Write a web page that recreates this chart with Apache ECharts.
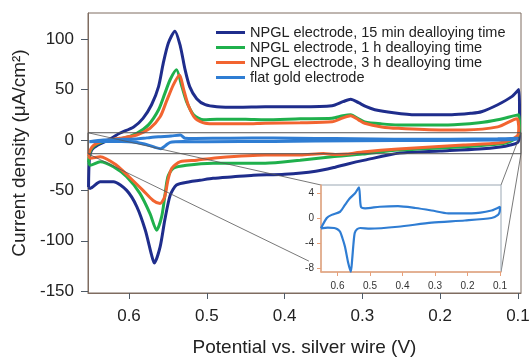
<!DOCTYPE html>
<html>
<head>
<meta charset="utf-8">
<script src="https://cdn.jsdelivr.net/npm/echarts@6/dist/echarts.min.js"></script>
<style>
html,body{margin:0;padding:0;background:#fff;}
#c{width:531px;height:358px;}
</style>
</head>
<body>
<div id="c"></div>
<script>
// ---- data: [potential (V), current density (uA/cm2)] ----
const seriesNames = [
  'NPGL electrode, 15 min dealloying time',
  'NPGL electrode, 1 h dealloying time',
  'NPGL electrode, 3 h dealloying time',
  'flat gold electrode'
];
const npgl15min = [
  [0.652,-47],[0.651,-20],[0.648,-10],[0.640,-5],[0.630,-1.5],[0.620,3],[0.612,6.7],[0.594,13],[0.582,21.5],
  [0.571,35],[0.562,53],[0.556,76],[0.5495,96],[0.541,108],[0.534,93],[0.528,70],[0.522,53],[0.513,41],
  [0.502,35],[0.487,33],[0.46,32.5],[0.425,33],[0.38,33],[0.339,34],[0.325,38],[0.315,40.5],[0.305,37],
  [0.295,33],[0.284,30],[0.26,27],[0.232,25],[0.185,25],[0.16,26.5],[0.147,28],[0.126,35],[0.108,43],[0.099,50],
  [0.098,30],[0.098,8],[0.100,-2],[0.110,-5],[0.123,-7],[0.150,-9],[0.200,-11],[0.252,-13],[0.297,-20],
  [0.320,-24],[0.335,-27],[0.360,-31],[0.400,-34],[0.440,-35],[0.466,-36.5],[0.492,-38],[0.509,-40],
  [0.522,-41.4],[0.539,-44.7],[0.547,-54.7],[0.554,-79.5],[0.560,-106],[0.5675,-122],[0.571,-114],
  [0.579,-89.5],[0.590,-66],[0.603,-50],[0.620,-41.5],[0.637,-41.5],[0.650,-48],[0.652,-47]
];
const npgl1h = [
  [0.652,-22],[0.650,-12],[0.645,-6],[0.635,-2],[0.620,0.5],[0.607,1.7],[0.590,6.6],[0.575,15],[0.562,30],
  [0.554,46],[0.547,60],[0.539,69.6],[0.532,53],[0.526,38],[0.517,25],[0.504,20],[0.487,20.6],[0.45,20.5],
  [0.425,20],[0.38,21],[0.339,21.5],[0.325,24],[0.315,25],[0.305,21],[0.297,18],[0.275,16],[0.254,15],
  [0.19,15],[0.15,17],[0.126,20],[0.099,25],
  [0.098,15],[0.099,5],[0.103,2],[0.106,0],[0.117,-3.3],[0.168,-6.6],[0.254,-10],[0.300,-14],[0.339,-16.6],
  [0.380,-20],[0.425,-23],[0.492,-23],[0.526,-25],[0.543,-28],[0.550,-36.5],[0.554,-56],[0.558,-76],
  [0.5645,-89.5],[0.573,-73],[0.586,-53],[0.603,-36.5],[0.620,-26.5],[0.637,-21.5],[0.650,-25],[0.652,-22]
];
const npgl3h = [
  [0.652,-16],[0.650,-10],[0.645,-5],[0.635,-1.5],[0.620,0.8],[0.612,1.7],[0.590,5],[0.573,11.6],[0.560,23],
  [0.552,38],[0.543,54.7],[0.535,64.6],[0.530,51],[0.524,35],[0.515,21.5],[0.502,16.6],[0.487,16],[0.45,16],
  [0.425,16.6],[0.38,17],[0.339,18],[0.325,22],[0.315,24],[0.305,20],[0.297,16.6],[0.275,13],[0.254,11.6],
  [0.2,10],[0.168,10],[0.126,13],[0.106,20],[0.101,21],
  [0.099,12],[0.100,5],[0.110,0],[0.125,-3],[0.170,-5],[0.254,-9],[0.300,-12],[0.320,-14],[0.335,-14.5],
  [0.350,-13.5],[0.380,-15],[0.425,-15],[0.492,-18],[0.513,-20],[0.534,-21.5],[0.545,-28],[0.550,-40],
  [0.554,-56],[0.560,-63],[0.569,-60],[0.582,-50],[0.600,-36.5],[0.616,-25],[0.637,-16.6],[0.650,-18],[0.652,-16]
];
const flatGold = [
  [0.651,-1.65],[0.633,0],[0.618,0.5],[0.592,1.0],[0.577,2.1],[0.562,3.15],[0.546,3.95],[0.534,4.9],
  [0.528,1.8],[0.515,1.55],[0.470,1.8],[0.414,1.9],[0.36,1.6],[0.31,1.2],[0.259,0.75],[0.187,0.75],
  [0.126,1.2],[0.100,1.8],
  [0.101,1.0],[0.106,0.5],[0.126,0],[0.208,-0.4],[0.31,-0.75],[0.414,-1.4],[0.50,-1.7],[0.53,-1.6],
  [0.540,-1.8],[0.547,-2.4],[0.551,-4.2],[0.555,-6.7],[0.559,-8.6],[0.567,-7.2],[0.577,-4.6],[0.585,-3.2],
  [0.592,-2.2],[0.600,-1.8],[0.610,-1.6],[0.630,-1.55],[0.651,-1.65]
];
const colors = ['#1f2d8c','#1fb04c','#f26430','#2f7dd3'];
// axis ranges and ticks
const mainX = [0.0961, 0.6527];
const mainY = [-151.8, 126];
const mainXTicks = [0.1,0.2,0.3,0.4,0.5,0.6];
const mainYTicks = [-150,-100,-50,0,50,100];
const insetX = [0.0969, 0.6508];
const insetY = [-8.64, 5.28];
const insetXTicks = [0.1,0.2,0.3,0.4,0.5,0.6];
const insetYTicks = [-8,-4,0,4];
// zoom box (main coords) and connector endpoints (inset coords)
const boxV = [0.6527, 0.0961];
const boxI = [7.2, -13.6];
const connectInset = [
  {from:[0.6527,7.2],  to:[0.6508,5.28]},
  {from:[0.6527,-13.6], to:[0.688,-6.9]},
  {from:[0.0961,7.2],  to:[0.0969,5.28]},
  {from:[0.0961,-13.6], to:[0.0969,-8.64]}
];

const font = 'Liberation Sans, Arial, Helvetica, sans-serif';
const chart = echarts.init(document.getElementById('c'), null, {renderer:'canvas'});
const mk = (name, data, c, w, xi) => ({
  name, type:'line', data, xAxisIndex:xi, yAxisIndex:xi, showSymbol:false, symbol:'none',
  lineStyle:{color:c, width:w}, itemStyle:{color:c}, smooth:0.25, animation:false, z: 3
});
const mainTickColor = '#4f5a66';
const option = {
  animation:false,
  textStyle:{fontFamily:font},
  grid:[
    {left:88, top:13, width:433, height:280, show:true, borderColor:'#7f6c60', borderWidth:1,
     backgroundColor:'transparent', containLabel:false, outerBoundsMode:'none'},
    {left:321, top:185, width:180, height:87, show:true, borderColor:'#9aa7b3', borderWidth:1,
     backgroundColor:'#fff', z:5, containLabel:false, outerBoundsMode:'none'}
  ],
  legend:{
    data:seriesNames, orient:'vertical', left:216, top:25, itemWidth:29, itemHeight:3, itemGap:0,
    icon:'rect', textStyle:{fontSize:14.5, color:'#222', fontFamily:font}, padding:0
  },
  xAxis:[
    {type:'value', gridIndex:0, inverse:true, min:mainX[0], max:mainX[1],
     name:'Potential vs. silver wire (V)', nameLocation:'middle', nameGap:45,
     nameTextStyle:{fontSize:19, color:'#222'},
     axisLine:{show:true, onZero:false, lineStyle:{color:'#7f6c60'}},
     axisTick:{show:true, inside:false, length:6, customValues:mainXTicks, lineStyle:{color:mainTickColor}},
     axisLabel:{customValues:mainXTicks, fontSize:17, color:'#222', margin:15, formatter:v=>v.toFixed(1)},
     splitLine:{show:false}},
    {type:'value', gridIndex:1, inverse:true, min:insetX[0], max:insetX[1],
     axisLine:{show:true, onZero:false, lineStyle:{color:'#eba77e', width:1.5}},
     axisTick:{show:true, inside:false, length:4, customValues:insetXTicks, lineStyle:{color:'#e8a07a'}},
     axisLabel:{customValues:insetXTicks, fontSize:10, color:'#333', margin:9, formatter:v=>v.toFixed(1)},
     splitLine:{show:false}, z:6}
  ],
  yAxis:[
    {type:'value', gridIndex:0, min:mainY[0], max:mainY[1],
     name:'Current density (\u03bcA/cm\u00b2)', nameLocation:'middle', nameGap:47,
     nameTextStyle:{fontSize:19, color:'#222'},
     axisLine:{show:true, onZero:false, lineStyle:{color:'#7f6c60'}},
     axisTick:{show:true, inside:false, length:7, customValues:mainYTicks, lineStyle:{color:mainTickColor}},
     axisLabel:{customValues:mainYTicks, fontSize:17, color:'#222', margin:14},
     splitLine:{show:false}},
    {type:'value', gridIndex:1, min:insetY[0], max:insetY[1],
     axisLine:{show:true, onZero:false, lineStyle:{color:'#eba77e', width:1.5}},
     axisTick:{show:true, inside:false, length:4, customValues:insetYTicks, lineStyle:{color:'#e8a07a'}},
     axisLabel:{customValues:insetYTicks, fontSize:10, color:'#333', margin:7},
     splitLine:{show:false}, z:6}
  ],
  series:[
    mk(seriesNames[0], npgl15min, colors[0], 3, 0),
    mk(seriesNames[1], npgl1h, colors[1], 3, 0),
    mk(seriesNames[2], npgl3h, colors[2], 3, 0),
    mk(seriesNames[3], flatGold, colors[3], 3, 0),
    {name:'zoombox', type:'line', xAxisIndex:0, yAxisIndex:0, showSymbol:false, symbol:'none', z:4,
     data:[[boxV[0],boxI[0]],[boxV[1],boxI[0]],[boxV[1],boxI[1]],[boxV[0],boxI[1]],[boxV[0],boxI[0]]],
     lineStyle:{color:'#555', width:1}, silent:true},
    Object.assign(mk('flat gold (inset)', flatGold, colors[3], 2.2, 1), {z:7})
  ]
};
chart.setOption(option);
// connectors from the zoom box to the inset, positioned via the library's coordinate systems
const lines = connectInset.map(c => {
  const p1 = chart.convertToPixel({xAxisIndex:0, yAxisIndex:0}, c.from);
  const p2 = chart.convertToPixel({xAxisIndex:1, yAxisIndex:1}, c.to);
  return {type:'line', shape:{x1:p1[0], y1:p1[1], x2:p2[0], y2:p2[1]}, style:{stroke:'#555', lineWidth:0.8}, z:4, silent:true};
});
chart.setOption({graphic:lines});
</script>
</body>
</html>
